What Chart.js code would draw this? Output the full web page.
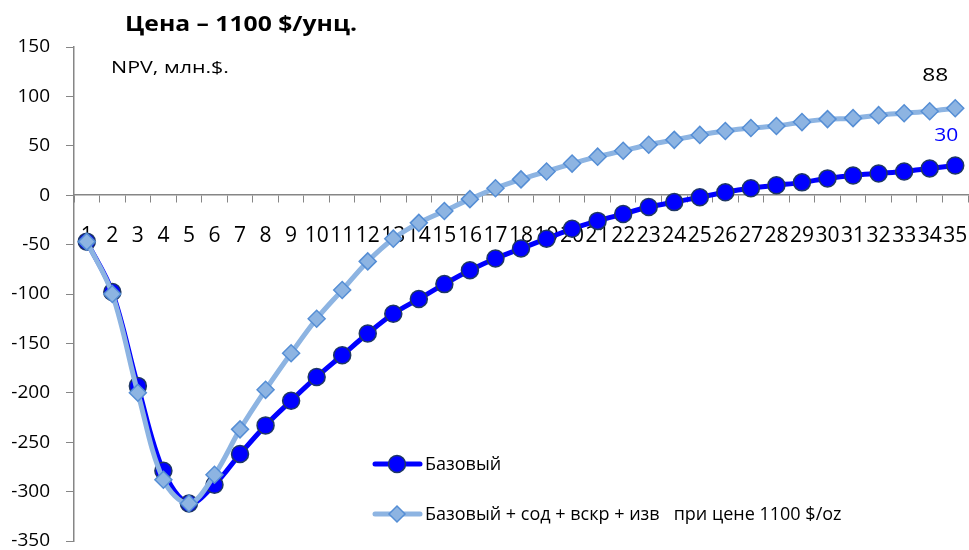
<!DOCTYPE html>
<html><head><meta charset="utf-8">
<script src="https://cdn.jsdelivr.net/npm/chart.js@4/dist/chart.umd.min.js"></script>
<style>html,body{margin:0;padding:0;background:#fff}#wrap{position:relative;width:969px;height:550px}</style>
</head><body><div id="wrap"><canvas id="c" width="969" height="550"></canvas></div>
<script>
const categories = Array.from({length:35},(_,i)=>String(i+1));
const seriesNames = ['Базовый','Базовый + сод + вскр + изв   при цене 1100 $/oz'];
const baseValues = [-47,-98,-193,-279,-312,-293,-262,-233,-208,-184,-162,-140,-120,-105,-90,-76,-64,-54,-44,-34,-26,-19,-12,-7,-2,3,7,10,13,17,20,22,24,27,30];
const extValues = [-47,-100,-200,-288,-312,-283,-237,-197,-160,-125,-96,-67,-44,-28,-16,-4,7,16,24,32,39,45,51,56,61,65,68,70,74,77,78,81,83,85,88];
const yTicks = {min:-350,max:150,step:50};
const titleText = 'Цена – 1100 $/унц.';
const unitText = 'NPV, млн.$.';

const FONT = "'Open Sans', sans-serif";
const axisColor = '#868686';

function fitText(ctx, text, x, y, width, align){
  const w = ctx.measureText(text).width;
  const s = width / w;
  ctx.save();
  ctx.textAlign='left';
  const x0 = align==='center' ? x - width/2 : x;
  ctx.translate(x0, y); ctx.scale(s, 1);
  ctx.fillText(text, 0, 0);
  ctx.restore();
}

const overlay = {
  id:'overlay',
  afterDatasetsDraw(chart){
    const ctx = chart.ctx;
    ctx.save();
    ctx.fillStyle='#000';
    ctx.textBaseline='middle';
    ctx.font = "bold 21px "+FONT;
    fitText(ctx, titleText, 125, 25, 232);
    ctx.font = "17px "+FONT;
    fitText(ctx, unitText, 111, 68, 118);
    const m1 = chart.getDatasetMeta(1).data, m0 = chart.getDatasetMeta(0).data;
    const p1 = m1[m1.length-1], p0 = m0[m0.length-1];
    ctx.font = "18px "+FONT;
    ctx.fillStyle='#000'; fitText(ctx, String(extValues[extValues.length-1]), p1.x-20, p1.y-32, 26, 'center');
    ctx.fillStyle='#0000FF'; fitText(ctx, String(baseValues[baseValues.length-1]), p0.x-9, p0.y-30, 24, 'center');
    const items = [
      {y:464, color:'#0000FF', style:'circle', r:8.5, fill:'#0000FF', border:'#1F3864'},
      {y:514, color:'#8DB4E2', style:'rectRot', r:8, fill:'#8DB4E2', border:'#558ED5'}
    ];
    items.forEach((it,i)=>{
      ctx.strokeStyle=it.color; ctx.lineWidth=5; ctx.lineCap='round';
      ctx.beginPath(); ctx.moveTo(375,it.y); ctx.lineTo(420,it.y); ctx.stroke();
      ctx.fillStyle=it.fill; ctx.strokeStyle=it.border; ctx.lineWidth=1.5;
      Chart.helpers.drawPoint(ctx,{pointStyle:it.style,radius:it.r,borderWidth:1.5,rotation:0},397,it.y);
      ctx.fillStyle='#000'; ctx.font="18px "+FONT; ctx.textAlign='left'; ctx.textBaseline='middle';
      ctx.fillText(seriesNames[i],425,it.y+1);
    });
    ctx.restore();
  }
};

new Chart(document.getElementById('c'),{
  type:'line',
  data:{labels:categories,datasets:[
    {label:seriesNames[0],data:baseValues,borderColor:'#0000FF',borderWidth:5,pointStyle:'circle',pointRadius:8.5,pointBackgroundColor:'#0000FF',pointBorderColor:'#1F3864',pointBorderWidth:1.5,tension:0.35,order:2,clip:false},
    {label:seriesNames[1],data:extValues,borderColor:'#8DB4E2',borderWidth:5,pointStyle:'rectRot',pointRadius:8.5,pointBackgroundColor:'#8DB4E2',pointBorderColor:'#558ED5',pointBorderWidth:1.5,tension:0.35,order:1,clip:false}
  ]},
  options:{
    responsive:false,animation:false,
    layout:{autoPadding:false,padding:{left:0,right:1,top:47,bottom:9}},
    plugins:{legend:{display:false},tooltip:{enabled:false},title:{display:false}},
    scales:{
      x:{position:{y:0},offset:true,
        afterFit(s){s.height=0;s.paddingLeft=0;s.paddingRight=0;},
        grid:{offset:true,drawOnChartArea:false,color:axisColor,tickLength:7,tickColor:axisColor},
        border:{color:axisColor,width:1.5},
        ticks:{color:'#000',font:{family:FONT,size:21},padding:21,maxRotation:0,autoSkip:false}},
      y:{min:yTicks.min,max:yTicks.max,
        afterFit(s){s.width=74;s.paddingTop=0;s.paddingBottom=0;},
        grid:{drawOnChartArea:false,color:axisColor,tickLength:8,tickColor:axisColor},
        border:{color:axisColor,width:1.5},
        ticks:{stepSize:yTicks.step,color:'#000',font:{family:FONT,size:19},padding:16}}
    }
  },
  plugins:[overlay]
});
</script></body></html>
